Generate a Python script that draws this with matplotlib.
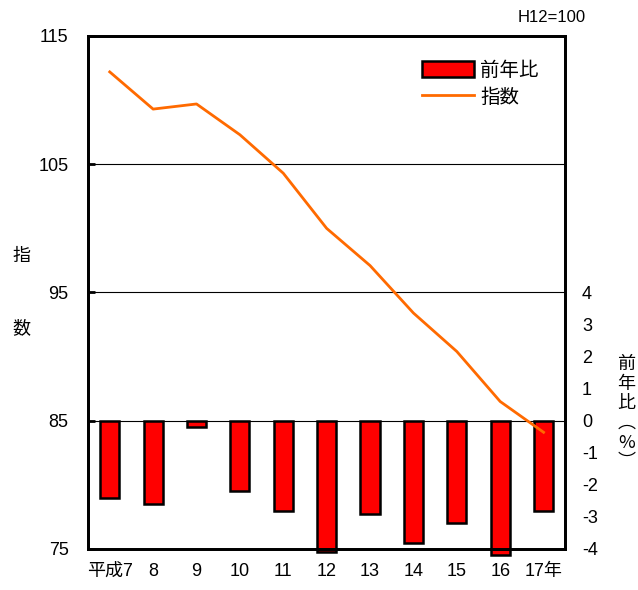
#!/usr/bin/env python3
"""Index trend (H12=100) with year-on-year change bars."""

import matplotlib
matplotlib.use('Agg')
import matplotlib.pyplot as plt

plt.rcParams['font.family'] = ['Liberation Sans', 'Noto Sans CJK JP']
plt.rcParams['axes.unicode_minus'] = False

years = ['平成7', '8', '9', '10', '11', '12', '13', '14', '15', '16', '17年']
index_values = [112.2, 109.3, 109.7, 107.3, 104.3, 100.0, 97.1, 93.4, 90.4, 86.5, 84.1]
yoy_change = [-2.4, -2.6, -0.2, -2.2, -2.8, -4.1, -2.9, -3.8, -3.2, -4.2, -2.8]
index_ticks = [75, 85, 95, 105, 115]
grid_levels = [85, 95, 105]
yoy_ticks = [-4, -3, -2, -1, 0, 1, 2, 3, 4]


def main() -> None:
    fig = plt.figure(figsize=(6.38, 5.90), dpi=100)
    ax = fig.add_axes([0.138, 0.0695, 0.748, 0.8695])
    ax2 = ax.twinx()
    x = list(range(len(years)))

    # bars on the right-hand axis
    bars = ax.bar(x, yoy_change, width=0.44, color='#ff0000', edgecolor='black',
                  linewidth=1.8, zorder=2, clip_on=False, label='前年比')
    ax.set_ylim(-4, 12)
    ax.set_xlim(-0.5, len(years) - 0.5)
    ax.yaxis.tick_right()
    ax.set_yticks(yoy_ticks)
    ax.tick_params(axis='y', length=0, labelsize=13, pad=12)
    ax.set_xticks(x)
    ax.set_xticklabels(years)
    ax.tick_params(axis='x', length=0, labelsize=13, pad=10)
    ax.text(1.128, 0.265, '前\n年\n比\n︵\n%\n︶', transform=ax.transAxes,
            ha='center', va='center', fontsize=13, linespacing=1.12,
            family=['Noto Sans CJK JP', 'Liberation Sans'])

    # index line on the left-hand axis
    ax2.yaxis.tick_left()
    ax2.set_ylim(75, 115)
    ax2.set_yticks(index_ticks)
    ax2.tick_params(axis='y', direction='in', length=5, width=2, labelsize=13, pad=14)
    for lvl in grid_levels:
        ax2.axhline(lvl, color='black', linewidth=0.8, zorder=1)
    line, = ax2.plot(x, index_values, color='#ff6a00', linewidth=2, zorder=3, label='指数')
    ax2.text(-0.14, 0.57, '指', transform=ax.transAxes, ha='center', va='center', fontsize=13)
    ax2.text(-0.14, 0.43, '数', transform=ax.transAxes, ha='center', va='center', fontsize=13)

    for a in (ax, ax2):
        for side in a.spines.values():
            side.set_linewidth(2)

    fig.text(0.865, 0.97, 'H12=100', ha='center', va='center', fontsize=12)

    ax2.legend([bars, line], ['前年比', '指数'], loc='upper right',
               bbox_to_anchor=(0.981, 0.985), frameon=False, fontsize=14,
               handlelength=2.7, handleheight=0.9, labelspacing=0.4,
               handletextpad=0.3)

    fig.savefig('out.png', dpi=100)
    plt.close(fig)


if __name__ == '__main__':
    main()
